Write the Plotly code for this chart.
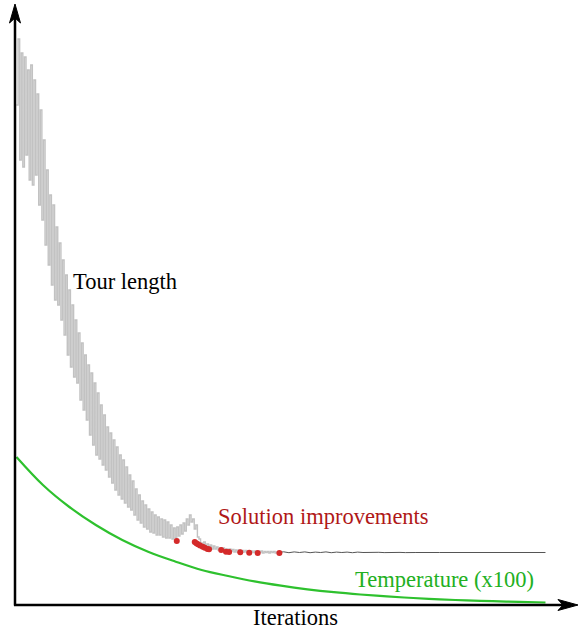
import plotly.graph_objects as go

# ---- data ----
# Tour length during the noisy phase, one sample every 3 iterations
band_start, band_step = 0, 3
tour_band = [500, 566, 445, 552, 438, 548, 450, 535, 425, 540,
             420, 525, 430, 511, 400, 495, 385, 465, 360, 435,
             340, 410, 320, 400, 305, 378, 300, 362, 285, 345,
             270, 330, 250, 315, 238, 300, 228, 285, 222, 272,
             205, 262, 195, 250, 185, 240, 170, 232, 160, 222,
             150, 212, 146, 200, 140, 190, 135, 178, 128, 172,
             122, 165, 115, 158, 110, 150, 106, 145, 102, 138,
             98, 130, 95, 124, 90, 116, 85, 110, 82, 104,
             78, 100, 76, 96, 73, 93, 72, 90, 70, 88,
             70, 86, 68, 85, 67, 83, 67, 80, 66, 77,
             67, 78, 69, 80, 71, 82, 74, 86, 80, 90,
             83, 86, 76, 80, 68, 66, 62, 59, 63, 58,
             61, 57, 60, 56, 59, 56, 58, 55, 57, 54,
             57, 54, 56, 53, 56, 54, 55.5, 53, 55, 53,
             55, 52.5, 54.5, 53, 54.5, 52.5, 54, 52.5, 54, 52.5,
             54, 52, 53.5, 52.5, 54, 52, 53.5, 52.5, 53.5, 52,
             53.5, 52.5, 53.5, 52, 53, 52.5]

# Tour length in the converged phase
tail_iters = [495, 505, 515, 525, 535, 545, 555, 565, 575, 585, 595, 605,
              615, 625, 635, 645, 655, 665, 675, 685, 695, 705, 715, 725,
              735, 745, 755, 800, 900, 1000]
tail_len = [52.5, 53.2, 52.3, 53.1, 52.5, 53.1, 52.3, 52.9, 52.5, 53.1, 52.3, 52.9,
            52.5, 52.9, 52.3, 52.9, 52.5, 52.8, 52.4, 52.7, 52.4, 52.7, 52.4, 52.6,
            52.4, 52.6, 52.5, 52.5, 52.5, 52.5]

# Solution improvements (iteration, tour length)
impr_iters = [303, 337, 340, 343, 347, 352, 356, 361, 364, 387, 396, 402,
              423, 440, 456, 497]
impr_len = [64, 63, 61.7, 60.7, 59.5, 58.3, 57.3, 56, 55.7, 55, 53.3, 53,
            52.7, 52.3, 52, 52]

# Temperature (x100)
temp_iters = [0, 50, 100, 150, 200, 250, 300, 350, 400, 450, 500, 550, 600,
              650, 700, 750, 800, 850, 900, 950, 1000]
temp_vals = [148, 120, 98, 80, 65, 53, 43.5, 35, 29, 23.6, 19.3, 15.7, 12.8,
             10.5, 8.6, 7.0, 5.7, 4.6, 3.8, 3.1, 2.5]

band_iters = [band_start + band_step * i for i in range(len(tour_band))]

FONT = "Liberation Serif, Times New Roman, serif"

fig = go.Figure()
fig.add_trace(go.Scatter(x=band_iters, y=tour_band, mode="lines",
                         line=dict(color="#c2c2c2", width=1.4, shape="hv"),
                         hoverinfo="skip", showlegend=False))
fig.add_trace(go.Scatter(x=tail_iters, y=tail_len, mode="lines",
                         line=dict(color="#555555", width=1),
                         hoverinfo="skip", showlegend=False))
fig.add_trace(go.Scatter(x=temp_iters, y=temp_vals, mode="lines",
                         line=dict(color="#2ec12e", width=2.2, shape="spline"),
                         hoverinfo="skip", showlegend=False))
fig.add_trace(go.Scatter(x=impr_iters, y=impr_len, mode="markers",
                         marker=dict(color="#d42a2a", size=6),
                         hoverinfo="skip", showlegend=False))

L, T, R, B = 15, 8, 4, 26
W, H = 579, 631
pw, ph = W - L - R, H - T - B


def px(x):
    return (x - L) / pw


def py(y):
    return (T + ph - y) / ph


shapes = [
    dict(type="line", xref="paper", yref="paper", x0=px(15), y0=py(605.5),
         x1=px(15), y1=py(18), line=dict(color="black", width=2.5)),
    dict(type="line", xref="paper", yref="paper", x0=px(14), y0=py(605),
         x1=px(568), y1=py(605), line=dict(color="black", width=2.5)),
]
# arrow heads
ya = [(15, 4), (9.5, 23), (15, 18), (20.5, 23)]
xa = [(578, 605), (558, 599.5), (563, 605), (558, 610.5)]
for pts in (ya, xa):
    path = "M " + " L ".join(f"{px(a):.5f},{py(b):.5f}" for a, b in pts) + " Z"
    shapes.append(dict(type="path", xref="paper", yref="paper", path=path,
                       fillcolor="black", line=dict(color="black", width=1)))

annotations = [
    dict(text="Tour length", x=px(71), y=py(281), xanchor="left",
         yanchor="middle", font=dict(color="black")),
    dict(text="Solution improvements", x=px(216), y=py(516), xanchor="left",
         yanchor="middle", font=dict(color="#b01818")),
    dict(text="Temperature (x100)", x=px(353), y=py(579), xanchor="left",
         yanchor="middle", font=dict(color="#22b022")),
    dict(text="Iterations", x=px(295.5), y=py(617), xanchor="center",
         yanchor="middle", font=dict(color="black")),
]
for a in annotations:
    a.update(xref="paper", yref="paper", showarrow=False)
    a["font"].update(family=FONT, size=22.5)

fig.update_layout(
    width=W, height=H, margin=dict(l=L, r=R, t=T, b=B, autoexpand=False),
    paper_bgcolor="white", plot_bgcolor="white",
    xaxis=dict(range=[-2.8, 1055.8], visible=False),
    yaxis=dict(range=[0, 597], visible=False),
    shapes=shapes, annotations=annotations,
)
fig.write_html("out.html", config={"displayModeBar": False},
               post_script="document.body.style.margin='0';"
                           "document.body.style.overflow='hidden';")
